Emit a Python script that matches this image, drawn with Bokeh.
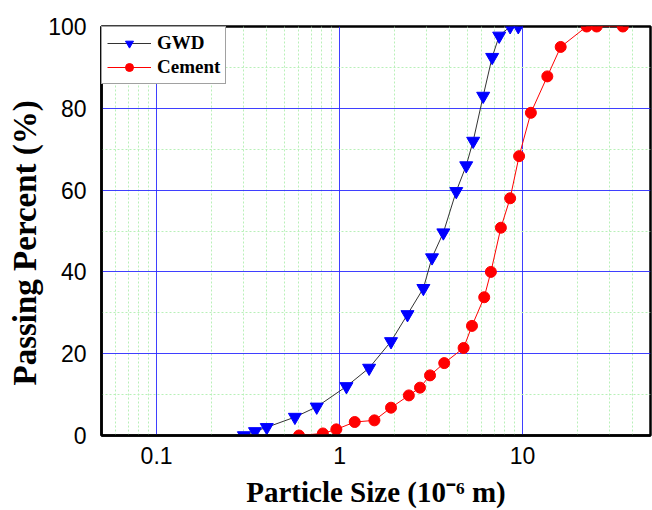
from bokeh.plotting import figure
from bokeh.models import FixedTicker, Range1d, Title
from bokeh.embed import file_html
from bokeh.resources import INLINE

# GWD particle size distribution
gwd_size = [0.30, 0.345, 0.40, 0.57, 0.75, 1.09, 1.45, 1.91, 2.35, 2.87, 3.2,
            3.69, 4.34, 4.92, 5.37, 6.09, 6.82, 7.45, 8.55, 9.47]
gwd_pass = [0, 1, 2, 4.5, 7, 12, 16.5, 23, 29.6, 36, 43.5,
            49.6, 59.7, 66, 72, 83, 92.5, 97.7, 100, 100]

# Cement particle size distribution
cem_size = [0.60, 0.81, 0.96, 1.21, 1.55, 1.91, 2.39, 2.75, 3.12, 3.73, 4.76,
            5.29, 6.17, 6.71, 7.61, 8.55, 9.57, 11.1, 13.65, 16.15, 22.4, 25.4, 35.3]
cem_pass = [0, 0.5, 1.5, 3.3, 3.7, 6.8, 9.8, 11.7, 14.7, 17.7, 21.4,
            26.8, 33.8, 40, 50.8, 58, 68.3, 78.9, 87.8, 95, 100, 100, 100]

x_ticks = [0.1, 1, 10]
y_ticks = [0, 20, 40, 60, 80, 100]
y_minor = [10, 30, 50, 70, 90]
x_minor = [m * 10.0 ** e for e in range(-2, 2) for m in range(2, 10)]

p = figure(width=652, height=510, x_axis_type="log",
           x_range=Range1d(0.05, 50), y_range=Range1d(0, 100),
           output_backend="svg", toolbar_location=None,
           min_border_left=101, min_border_right=2,
           min_border_top=26, min_border_bottom=75)

p.background_fill_color = "white"
p.border_fill_color = "white"
p.outline_line_color = "black"
p.outline_line_width = 2.5

p.xaxis.ticker = FixedTicker(ticks=x_ticks, minor_ticks=x_minor)
p.yaxis.ticker = FixedTicker(ticks=y_ticks, minor_ticks=y_minor)
p.xaxis.major_label_overrides = {0.1: "0.1", 1: "1", 10: "10"}

for ax in (p.xaxis, p.yaxis):
    ax.axis_line_color = "black"
    ax.axis_line_width = 2.5
    ax.major_tick_line_color = None
    ax.minor_tick_line_color = None
    ax.major_label_text_font = "Liberation Sans"
    ax.major_label_text_font_size = "23px"
    ax.major_label_text_color = "black"
    ax.axis_label_text_font = "Liberation Serif"
    ax.axis_label_text_font_style = "bold"
    ax.axis_label_text_color = "black"

p.xaxis.major_label_standoff = 5
p.yaxis.major_label_standoff = 9
p.xaxis.axis_label = "Particle Size (10\u207b\u2076 m)"
p.xaxis.axis_label_text_font_size = "29px"
p.xaxis.axis_label_standoff = 9

ytitle = Title(text="Passing Percent (%)", align="left", offset=50,
               text_font="Liberation Serif", text_font_style="bold",
               text_font_size="33px", text_color="black", standoff=6)
p.add_layout(ytitle, "left")

for g in (p.xgrid, p.ygrid):
    g.grid_line_color = "#2a2aff"
    g.grid_line_width = 1
    g.grid_line_alpha = 0.9
    g.minor_grid_line_color = "#b8f0b8"
    g.minor_grid_line_dash = "2 2"
    g.minor_grid_line_width = 1

p.line(gwd_size, gwd_pass, line_color="#333333", line_width=1, legend_label="GWD")
p.scatter(gwd_size, gwd_pass, marker="inverted_triangle", size=13,
          fill_color="#0000ff", line_color="#0000ff", legend_label="GWD")

p.line(cem_size, cem_pass, line_color="#ff0000", line_width=1, legend_label="Cement")
p.scatter(cem_size, cem_pass, marker="circle", size=11,
          fill_color="#ff0000", line_color="#ff0000", legend_label="Cement")

lg = p.legend[0]
lg.location = "top_left"
lg.margin = 0
lg.padding = 5
lg.spacing = 2
lg.glyph_width = 44
lg.glyph_height = 20
lg.label_height = 20
lg.label_standoff = 6
lg.label_text_font = "Liberation Serif"
lg.label_text_font_style = "bold"
lg.label_text_font_size = "19px"
lg.label_text_color = "black"
lg.border_line_color = "#444444"
lg.border_line_width = 1
lg.background_fill_color = "white"
lg.background_fill_alpha = 1

open("out.html", "w").write(file_html(p, INLINE))
